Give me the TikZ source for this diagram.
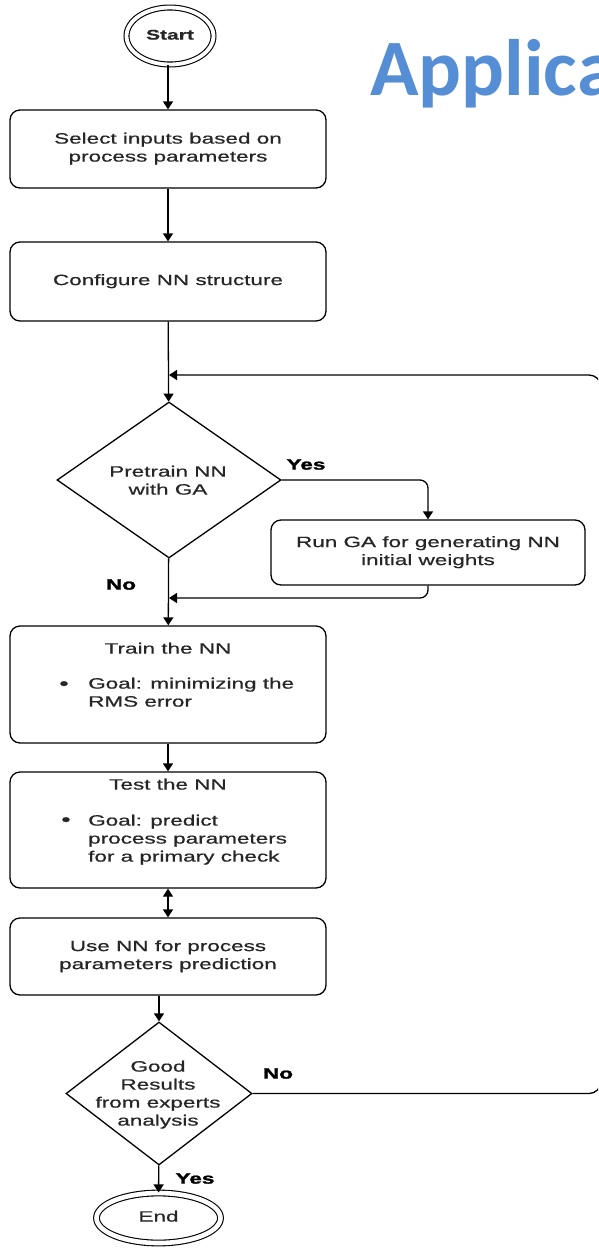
\documentclass[tikz,border=0pt]{standalone}
\usepackage{fontspec}
\usepackage{graphicx}
\setmainfont{Liberation Sans}
\newfontfamily\flowfont{Liberation Sans}[FakeBold=0.5]
\newfontfamily\labelfont{Liberation Sans Bold}[FakeBold=1.4]
\newfontfamily\slidefont{Carlito}
\usetikzlibrary{shapes.geometric,arrows.meta}
\definecolor{appblue}{RGB}{85,142,213}
% flowchart text is set wide
\newcommand\wide[1]{\raisebox{-2.5pt}{\scalebox{1.5}[1]{\begin{tabular}{@{}c@{}}#1\end{tabular}}}}
\newcommand\wideL[1]{\raisebox{-2.5pt}{\scalebox{1.5}[1]{\begin{tabular}{@{}l@{}}#1\end{tabular}}}}
\tikzset{
  flow/.style={font=\flowfont\fontsize{15}{18}\selectfont, text=black!85},
  stepbox/.style={draw, line width=1.3pt, rounded corners=10pt, minimum width=316pt,
                  inner sep=0pt, flow},
  decision/.style={draw, diamond, line width=1.3pt, inner sep=0pt},
  terminal/.style={draw, ellipse, line width=1.1pt, double, inner sep=0pt, flow},
  label/.style={font=\labelfont\fontsize{15}{18}\selectfont, text=black, inner sep=0pt},
  arr/.style={-{Triangle[width=10pt,length=8pt]}, line width=1.3pt},
  link/.style={line width=1.3pt},
}
\begin{document}
\begin{tikzpicture}[x=1pt,y=-1pt]
\useasboundingbox (0,0) rectangle (598,1248);
\fill[white] (0,0) rectangle (598,1248);
\clip (0,0) rectangle (598,1248);

% slide title, running off the right edge
\node[anchor=base west, inner sep=0pt, font=\slidefont\bfseries\fontsize{80}{90}\selectfont,
      text=appblue] (title) at (370,95) {Applica};

% terminals
\node[terminal, minimum width=87pt, minimum height=57pt, double distance=3.8pt]
  (start) at (170,36) {\wide{\bfseries\fontsize{14}{17}\selectfont Start}};
\node[terminal, minimum width=124pt, minimum height=50pt, double distance=4.6pt]
  (end) at (158.5,1218) {\wide{End}};

% process steps
\node[stepbox, minimum height=78pt] (select) at (168,149)
  {\wide{Select inputs based on\\process parameters}};
\node[stepbox, minimum height=79pt] (config) at (168,281.5)
  {\wide{Configure NN structure}};
\node[stepbox, minimum width=314pt, minimum height=65pt] (rungA) at (428,552.5)
  {\wide{Run GA for generating NN\\initial weights}};
\node[stepbox, minimum height=117pt] (train) at (168,684.5) {};
\node[stepbox, minimum height=116pt] (test) at (168,830) {};
\node[stepbox, minimum height=77pt] (use) at (168,956.5)
  {\wide{Use NN for process\\parameters prediction}};

% contents of the training and testing steps
\node[flow, inner sep=0pt] (trainT) at (168,650) {\wide{Train the NN}};
\node[flow, inner sep=0pt] (trainB) at (64,686) {\wide{\fontsize{18}{18}\selectfont\textbullet}};
\node[flow, inner sep=0pt, anchor=west] (trainG) at (88,694)
  {\wideL{Goal: minimizing the\\RMS error}};
\node[flow, inner sep=0pt] (testT) at (168,786) {\wide{Test the NN}};
\node[flow, inner sep=0pt] (testB) at (66,822) {\wide{\fontsize{18}{18}\selectfont\textbullet}};
\node[flow, inner sep=0pt, anchor=west] (testG) at (88,840)
  {\wideL{Goal: predict\\process parameters\\for a primary check}};

% decisions
\node[decision, minimum width=224pt, minimum height=156pt] (pre) at (169,480) {};
\node[flow, inner sep=0pt] (preT) at (168,482) {\wide{Pretrain NN\\with GA}};
\node[decision, minimum width=186pt, minimum height=143pt] (good) at (159,1093.5) {};
\node[flow, inner sep=0pt] (goodT) at (158,1095)
  {\wide{Good\\Results\\from experts\\analysis}};

% branch labels
\node[label] (yes1) at (306,466) {\wide{Yes}};
\node[label] (no1) at (121,586) {\wide{No}};
\node[label] (no2) at (278,1075) {\wide{No}};
\node[label] (yes2) at (195,1180) {\wide{Yes}};

% junctions on the main line
\coordinate (loopIn) at (169,375);
\coordinate (gaIn) at (169,598);
\coordinate (loopR) at (601,375);

% connectors
\draw[arr] (start.south -| select.north) -- (select.north);
\draw[arr] (select) -- (config);
\draw[arr] (config) -- (pre);
\draw[arr, rounded corners=8pt] (pre.east) -| (rungA.north);
\draw[arr, rounded corners=8pt] (rungA.south) |- (gaIn);
\draw[arr] (pre) -- (train);
\draw[arr] (train) -- (test);
\draw[link, {Triangle[width=10pt,length=8pt]}-{Triangle[width=10pt,length=8pt]}] (test) -- (use);
\draw[arr] (use.south -| good.north) -- (good.north);
\draw[arr] (good) -- (end);
\draw[arr, rounded corners=12pt] (good.east) -| (loopR) -- (loopIn);
\end{tikzpicture}
\end{document}
